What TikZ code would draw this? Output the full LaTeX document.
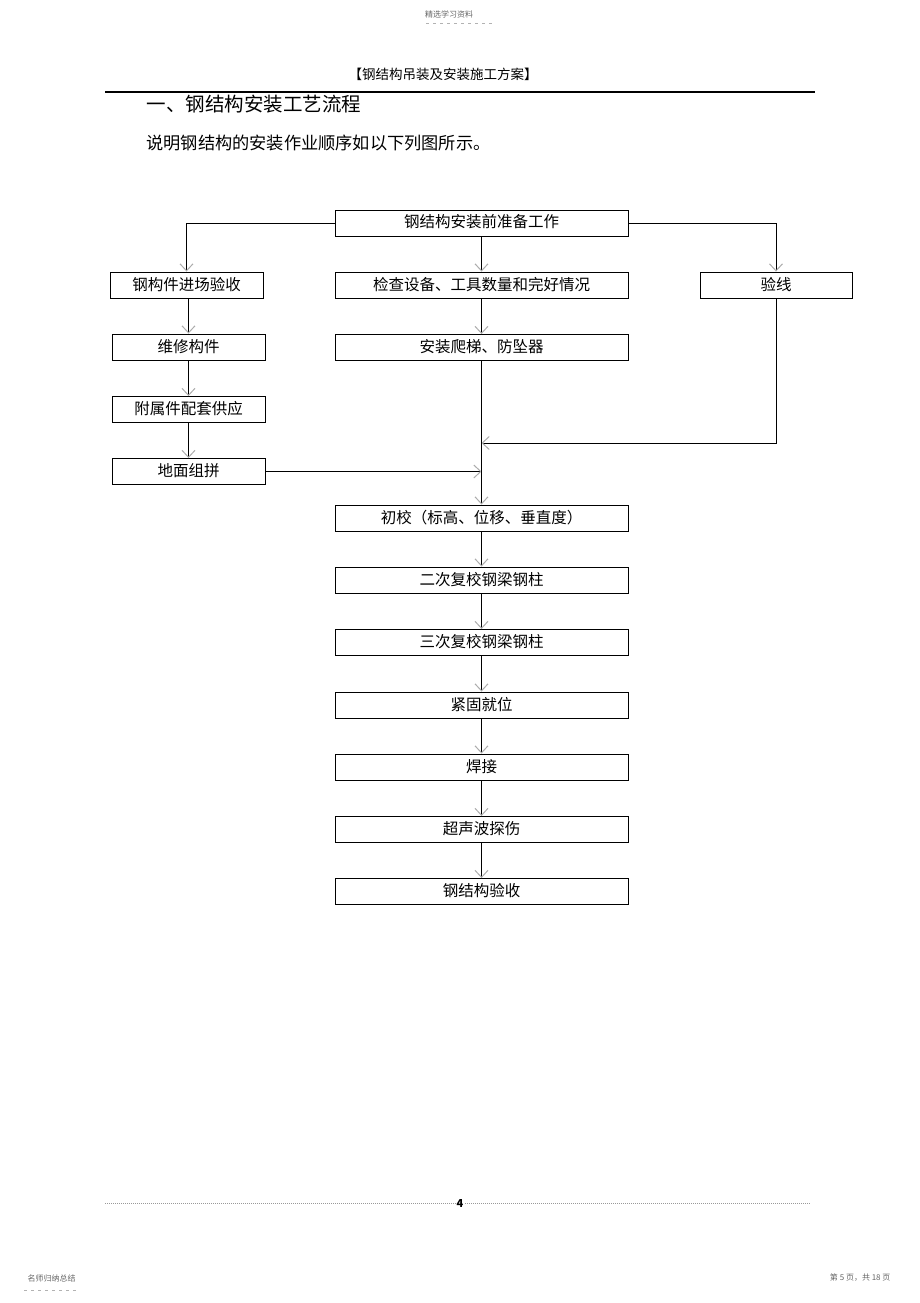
\documentclass[tikz,border=0pt]{standalone}
\usepackage{fontspec}
\setmainfont{Noto Sans CJK SC}
\usetikzlibrary{arrows.meta}
\begin{document}
\begin{tikzpicture}[x=1pt,y=-1pt,
  box/.style={draw,line width=0.9pt,minimum height=26pt,inner sep=0pt,font=\fontsize{15.5}{17}\selectfont},
  wbox/.style={box,minimum width=293pt},
  sbox/.style={box,minimum width=153pt},
  arr/.style={line width=0.8pt,-{Straight Barb[length=7pt,width=13pt,color=gray!65,line width=1pt]}},
  ln/.style={line width=0.8pt}]
\useasboundingbox (0,0) rectangle (920,1303);
% page header/footer
\node[font=\fontsize{8}{9}\selectfont,text=gray!80!black] (tp) at (449,14) {精选学习资料};
\draw[gray!60,dash pattern=on 3pt off 4pt] (426,23) -- (494,23);
\node[font=\fontsize{13.5}{15}\selectfont] (hd) at (443,74) {【钢结构吊装及安装施工方案】};
\draw[line width=1.2pt] (105,92) -- (815,92);
\node[anchor=west,font=\fontsize{19.5}{21}\selectfont] (t1) at (143,104) {一、钢结构安装工艺流程};
\node[anchor=west,font=\fontsize{17.2}{19}\selectfont] (t2) at (143,143) {说明钢结构的安装作业顺序如以下列图所示。};
% boxes
\node[wbox] (top) at (481.5,223) {\raisebox{4pt}{钢结构安装前准备工作}};
\node[sbox] (a1) at (186.5,285) {\raisebox{3pt}{钢构件进场验收}};
\node[wbox] (b1) at (481.5,285) {\raisebox{3pt}{检查设备、工具数量和完好情况}};
\node[box,minimum width=152pt] (c1) at (776,285) {\raisebox{3pt}{验线}};
\node[sbox] (a2) at (188.5,347) {\raisebox{3pt}{维修构件}};
\node[wbox] (b2) at (481.5,347.5) {\raisebox{3pt}{安装爬梯、防坠器}};
\node[sbox] (a3) at (188.5,409.5) {\raisebox{3pt}{附属件配套供应}};
\node[sbox] (a4) at (188.5,471.5) {\raisebox{3pt}{地面组拼}};
\node[wbox] (b3) at (481.5,518) {\raisebox{3pt}{初校（标高、位移、垂直度）}};
\node[wbox] (b4) at (481.5,580) {\raisebox{3pt}{二次复校钢梁钢柱}};
\node[wbox] (b5) at (481.5,642.5) {\raisebox{3pt}{三次复校钢梁钢柱}};
\node[wbox] (b6) at (481.5,705) {\raisebox{3pt}{紧固就位}};
\node[wbox] (b7) at (481.5,767) {\raisebox{3pt}{焊接}};
\node[wbox] (b8) at (481.5,829.5) {\raisebox{3pt}{超声波探伤}};
\node[wbox] (b9) at (481.5,891.5) {\raisebox{3pt}{钢结构验收}};
% connectors
\draw[arr] (top.west) -| (a1.north);
\draw[arr] (top.east) -| (c1.north);
\draw[arr] (top.south) -- (b1.north);
\draw[arr] (a1.south -| a2.north) -- (a2.north);
\draw[arr] (a2.south) -- (a3.north);
\draw[arr] (a3.south) -- (a4.north);
\draw[arr] (b1.south) -- (b2.north);
\coordinate (m) at (481.5,443);
\draw[arr] (c1.south) |- (m);
\draw[arr] (a4.east) -- (a4.east -| b2.south);
\draw[arr] (b2.south) -- (b3.north);
\draw[arr] (b3.south) -- (b4.north);
\draw[arr] (b4.south) -- (b5.north);
\draw[arr] (b5.south) -- (b6.north);
\draw[arr] (b6.south) -- (b7.north);
\draw[arr] (b7.south) -- (b8.north);
\draw[arr] (b8.south) -- (b9.north);
% footer
\draw[gray!80,line width=0.8pt,dash pattern=on 1pt off 1pt] (105,1203) -- (810,1203);
\node[fill=white,inner sep=0.5pt,font=\fontsize{11}{12}\selectfont\bfseries] (pg) at (460,1203) {4};
\node[anchor=west,font=\fontsize{8}{9}\selectfont,text=gray!80!black] (fl) at (24,1278) {名师归纳总结};
\draw[gray!60,dash pattern=on 3pt off 4pt] (24,1290) -- (76,1290);
\node[anchor=east,font=\fontsize{8}{9}\selectfont,text=gray!80!black] (fr) at (894,1278) {第 5 页，共 18 页};
\end{tikzpicture}
\end{document}
